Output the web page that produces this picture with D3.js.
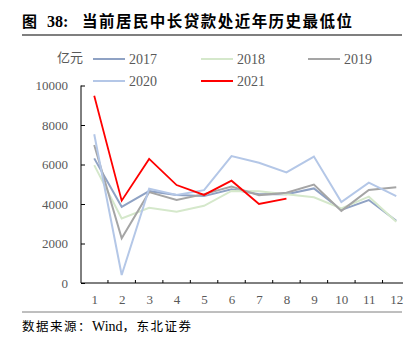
<!DOCTYPE html>
<html><head><meta charset="utf-8">
<script src="https://cdn.jsdelivr.net/npm/d3@7"></script>
<style>body{margin:0;background:#fff}svg{display:block}</style>
</head><body><svg id="c" width="416" height="345"></svg>
<script>
const months = [1,2,3,4,5,6,7,8,9,10,11,12];
const seriesNames = ["2017","2018","2019","2020","2021"];
const v2017 = [6310,3860,4650,4450,4400,4750,4500,4500,4790,3700,4200,3150];
const v2018 = [5970,3270,3810,3610,3910,4660,4650,4490,4340,3780,4370,3100];
const v2019 = [6990,2260,4600,4200,4500,4880,4450,4570,4980,3650,4710,4845];
const v2020 = [7530,405,4775,4460,4700,6430,6090,5600,6400,4100,5080,4400];
const v2021 = [9480,4170,6280,4960,4460,5180,4000,4270];
const yTicks = [0,2000,4000,6000,8000,10000];
const colors = ["#8fa2c4","#d5e8cb","#a5a5a5","#b4c7e7","#ff0000"];
const allValues = [v2017,v2018,v2019,v2020,v2021];

const svg = d3.select("#c");
const serif = "'Liberation Serif','Times New Roman',serif";
const cjk = "'Noto Sans CJK SC',sans-serif";

// title
const tg = svg.append("g").attr("font-weight","bold").attr("fill","#000");
tg.append("text").attr("x",22).attr("y",27).attr("font-family",cjk).attr("font-size",15).text("图");
tg.append("text").attr("x",47).attr("y",27).attr("font-family",serif).attr("font-size",16).text("38:");
tg.append("text").attr("x",82).attr("y",27).attr("font-family",cjk).attr("font-size",15.5)
  .attr("textLength",270).attr("lengthAdjust","spacing").text("当前居民中长贷款处近年历史最低位");
svg.append("line").attr("x1",22).attr("x2",402).attr("y1",35).attr("y2",35).attr("stroke","#7f7f7f").attr("stroke-width",2);

const x = d3.scaleLinear().domain([0.5,12.5]).range([80.5,410]);
const y = d3.scaleLinear().domain([0,10000]).range([283,85.5]);

// unit
svg.append("text").attr("x",83).attr("y",62).attr("text-anchor","end").attr("font-family",cjk)
  .attr("font-size",13).attr("fill","#595959").text("亿元");

// y axis
const ya = svg.append("g").attr("transform","translate(81,0)")
  .call(d3.axisLeft(y).tickValues(yTicks).tickSize(-4).tickPadding(13).tickFormat(d3.format("d")));
ya.select(".domain").attr("stroke","#000").attr("d","M0,85.5V283");
ya.selectAll(".tick line").attr("stroke","#000");
ya.selectAll("text").attr("font-family",serif).attr("font-size",13).attr("fill","#595959");

// x axis
const xa = svg.append("g").attr("transform","translate(0,283)")
  .call(d3.axisBottom(x).tickValues(months).tickSize(0).tickPadding(12).tickFormat(d3.format("d")));
xa.select(".domain").attr("stroke","#000").attr("d","M81,0H403");
xa.selectAll("text").attr("font-family",serif).attr("font-size",13).attr("fill","#595959");
svg.append("g").selectAll("line").data(months.slice(0,11)).join("line")
  .attr("x1",d=>x(d+0.5)).attr("x2",d=>x(d+0.5)).attr("y1",283).attr("y2",280)
  .attr("stroke","#000");

// lines
const line = d3.line().x((d,i)=>x(months[i])).y(d=>y(d));
allValues.forEach((vals,k)=>{
  svg.append("path").datum(vals).attr("d",line).attr("fill","none")
    .attr("stroke",colors[k]).attr("stroke-width",k===4?1.8:2).attr("stroke-linejoin","miter");
});

// legend
const legPos = [[93,59],[201,59],[308,59],[93,81],[201,81]];
seriesNames.forEach((n,k)=>{
  const [lx,ly] = legPos[k];
  svg.append("line").attr("x1",lx).attr("x2",lx+32).attr("y1",ly).attr("y2",ly)
    .attr("stroke",colors[k]).attr("stroke-width",2);
  svg.append("text").attr("x",lx+36).attr("y",ly+5).attr("font-family",serif).attr("font-size",14)
    .attr("fill","#595959").text(n);
});

// footer
svg.append("line").attr("x1",22).attr("x2",402).attr("y1",312).attr("y2",312).attr("stroke","#7f7f7f").attr("stroke-width",1);
const ft = svg.append("text").attr("x",22).attr("y",331).attr("fill","#000").attr("font-size",12.5);
ft.append("tspan").attr("font-family",cjk).attr("letter-spacing",1.5).text("数据来源：");
ft.append("tspan").attr("font-family",serif).attr("font-size",14).text("Wind");
ft.append("tspan").attr("font-family",cjk).attr("letter-spacing",1.5).text("，东北证券");
</script></body></html>
